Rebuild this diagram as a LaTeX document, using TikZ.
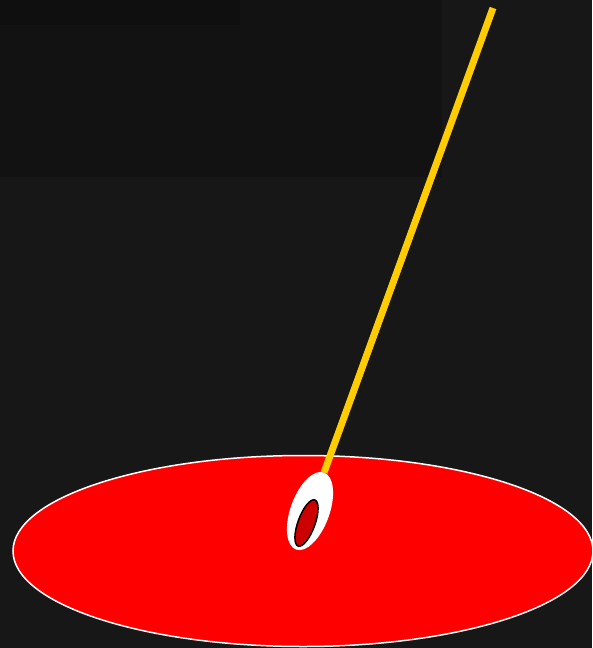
\documentclass[tikz,border=0pt]{standalone}
\usepackage{xcolor}
\usepackage{tikz}
\usetikzlibrary{shapes.geometric}

\definecolor{bgbase}{HTML}{171717}
\definecolor{bgmid}{HTML}{121212}
\definecolor{bgdark}{HTML}{0F0F0F}
\definecolor{poolred}{HTML}{FF0000}
\definecolor{coredred}{HTML}{CC0000}
\definecolor{stickgold}{HTML}{FFCC00}

\begin{document}
\begin{tikzpicture}[
    x=1pt, y=-1pt,
    blob/.style={ellipse, inner sep=0pt, outer sep=0pt}
]
% background
\fill[bgbase] (0,0) rectangle (592,648);
\fill[bgmid] (0,0) rectangle (442,177);
\fill[bgdark] (0,0) rectangle (240,25);
\useasboundingbox (0,0) rectangle (592,648);

\node[blob, fill=poolred, draw=white, line width=1.5pt,
      minimum width=580pt, minimum height=191pt] (pool) at (303,551) {};
\node[blob, fill=white, minimum width=39pt, minimum height=82pt,
      rotate=-20] (swab) at (310,511) {};
\node[blob, fill=coredred, draw=black, line width=1.5pt,
      minimum width=17pt, minimum height=49pt, rotate=-20] (core) at (306.5,523) {};

\coordinate (tip) at (493,8);
\draw[stickgold, line width=7pt] (tip) -- (swab);
\end{tikzpicture}
\end{document}
